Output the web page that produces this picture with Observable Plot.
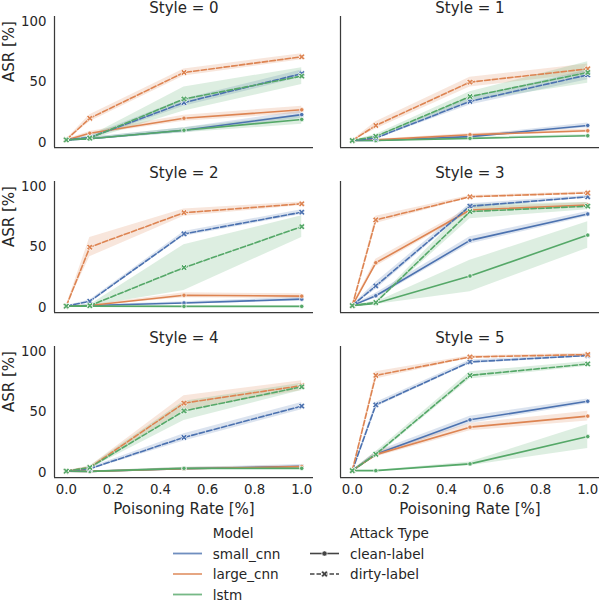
<!DOCTYPE html>
<html><head><meta charset="utf-8">
<script src="https://cdn.jsdelivr.net/npm/d3@7"></script>
<script src="https://cdn.jsdelivr.net/npm/@observablehq/plot@0.6"></script>
<style>
body{margin:0;background:#fff;font-family:"DejaVu Sans",sans-serif;}
#chart{position:relative;width:600px;height:602px;overflow:hidden;}
#chart svg{position:absolute;left:0;}
</style></head><body><div id="chart"></div>
<script>
const styles = [0, 1, 2, 3, 4, 5];
const rates = [0, 0.1, 0.5, 1.0];
const models = ["small_cnn", "large_cnn", "lstm"];
const attacks = ["clean-label", "dirty-label"];
const modelColors = ["#4c72b0", "#dd8452", "#55a868"];
const xTicks = [0, 0.2, 0.4, 0.6, 0.8, 1.0];
const yTicks = [0, 50, 100];
// series order: [model, attack]
const seriesKeys = [
  ["small_cnn", "clean-label"], ["small_cnn", "dirty-label"],
  ["large_cnn", "clean-label"], ["large_cnn", "dirty-label"],
  ["lstm", "clean-label"], ["lstm", "dirty-label"]
];
// mean ASR [%] at each poisoning rate, and half-width of the confidence band
const style0Mean = [[2, 3, 10, 23], [2, 4, 33, 57], [2, 7.5, 20, 27], [2, 20, 58, 71], [2, 3, 10, 19], [2, 3.5, 36, 55]];
const style0Band = [[0.5, 1, 2, 3], [0.5, 1.5, 3, 3], [0.5, 1.5, 2.5, 3], [0.5, 3, 3, 2.5], [0.5, 1, 2, 4], [0.5, 1.5, 10, 7]];
const style1Mean = [[1.5, 1.5, 4.7, 14], [1.5, 3.6, 34, 56], [1.5, 2, 6.3, 9.6], [1.5, 14, 50, 61], [1.5, 1.5, 3.3, 5.5], [1.5, 5, 38, 58]];
const style1Band = [[0.3, 0.5, 1, 2], [0.3, 1, 3, 4], [0.3, 0.5, 1, 1.5], [0.3, 3, 4, 4], [0.3, 0.5, 1, 1], [0.3, 1.5, 4, 9]];
const style2Mean = [[1, 1.5, 3.6, 6.8], [1, 5, 61, 79], [1, 1.5, 10, 9.3], [1, 50, 78.6, 86], [1, 1, 0.8, 0.8], [1, 1.4, 33, 67]];
const style2Band = [[0.3, 0.5, 1, 1.5], [0.3, 1, 2, 2], [0.3, 0.5, 2, 2], [0.3, 8, 3, 1.5], [0.2, 0.2, 0.3, 0.3], [0.3, 0.5, 19, 9]];
const style3Mean = [[1.4, 9.6, 55.6, 77.5], [1.4, 17.8, 84, 91.8], [1.4, 37, 80.8, 85], [1.4, 72.6, 91.8, 95], [1.4, 3.3, 26, 60], [1.4, 4, 79.5, 84]];
const style3Band = [[0.3, 2, 3, 2], [0.3, 3, 2, 1], [0.3, 3, 2, 2], [0.3, 3, 1, 1], [0.3, 1, 13, 11], [0.3, 1, 6, 3]];
const style4Mean = [[1, 0.8, 3, 5], [1, 3, 29, 55], [1, 0.8, 3, 4.7], [1, 4, 57.5, 72], [1, 0.8, 3.3, 3.3], [1, 4, 51, 71]];
const style4Band = [[0.2, 0.3, 1, 1.5], [0.3, 1, 3, 3], [0.2, 0.3, 1, 1], [0.3, 1, 6, 4], [0.2, 0.3, 1, 1], [0.3, 1, 8, 3]];
const style5Mean = [[1.4, 15, 43.6, 59], [1.4, 56, 91.7, 97], [1.4, 14.7, 37.5, 46.7], [1.4, 80.5, 95.8, 97.8], [1.4, 1.4, 7, 29.7], [1.4, 15, 80.5, 90]];
const style5Band = [[0.3, 2, 3, 2], [0.3, 2, 1.5, 1], [0.3, 2, 3, 4], [0.3, 3, 1, 1], [0.3, 0.3, 1.5, 10], [0.3, 2, 3, 2]];

const meanByStyle = [style0Mean, style1Mean, style2Mean, style3Mean, style4Mean, style5Mean];
const bandByStyle = [style0Band, style1Band, style2Band, style3Band, style4Band, style5Band];

const data = [];
styles.forEach((s, si) => {
  seriesKeys.forEach(([model, attack], k) => {
    rates.forEach((rate, i) => {
      const asr = meanByStyle[si][k][i], hw = bandByStyle[si][k][i];
      data.push({style: s, col: s % 2, row: Math.floor(s / 2), model, attack,
        key: model + "|" + attack, rate, asr, lo: asr - hw, hi: asr + hw});
    });
  });
});
const clean = data.filter(d => d.attack === "clean-label");
const dirty = data.filter(d => d.attack === "dirty-label");
const facet = {fx: "col", fy: "row"};
const textColor = "#262626";
const spine = "#3a3a3a";

const plot = Plot.plot({
  width: 600, height: 520,
  marginLeft: 53, marginRight: 0, marginTop: 15, marginBottom: 42.3,
  style: {fontFamily: "DejaVu Sans", fontSize: "13.3px", color: textColor, background: "white"},
  fx: {domain: [0, 1], paddingInner: 0.094, paddingOuter: 0, axis: null},
  fy: {domain: [0, 1, 2], paddingInner: 0.204, paddingOuter: 0, axis: null},
  x: {domain: [-0.05, 1.05]},
  y: {domain: [-4.3, 104.5]},
  color: {domain: models, range: modelColors},
  marks: [
    Plot.areaY(data, {...facet, x: "rate", y1: "lo", y2: "hi", z: "key", fill: "model", fillOpacity: 0.2}),
    Plot.ruleX([-0.05], {stroke: spine, strokeWidth: 1.25}),
    Plot.ruleY([-4.3], {stroke: spine, strokeWidth: 1.25}),
    Plot.lineY(clean, {...facet, x: "rate", y: "asr", z: "key", stroke: "model", strokeWidth: 1.6}),
    Plot.lineY(dirty, {...facet, x: "rate", y: "asr", z: "key", stroke: "model", strokeWidth: 1.6, strokeDasharray: "5.5,2.2"}),
    Plot.dot(clean, {...facet, x: "rate", y: "asr", fill: "model", r: 2.2, stroke: "white", strokeWidth: 0.7}),
    Plot.dot(dirty, {...facet, x: "rate", y: "asr", fill: "model", symbol: "cross", rotate: 45, r: 2.8, stroke: "white", strokeWidth: 0.7}),
    Plot.axisX({ticks: xTicks, tickSize: 0, tickPadding: 7, tickFormat: d3.format(".1f"), label: null, facetAnchor: "bottom", fontSize: 13.3, fill: textColor}),
    Plot.axisY({ticks: yTicks, tickSize: 0, tickPadding: 8, label: null, facetAnchor: "left", fontSize: 13.3, fill: textColor}),
    Plot.text(styles, {fx: s => s % 2, fy: s => Math.floor(s / 2), text: s => `Style = ${s}`, frameAnchor: "top", dy: -8, lineAnchor: "middle", fontSize: 15, fill: textColor}),
    Plot.text([0, 1, 2], {fx: () => 0, fy: r => r, text: () => "ASR [%]", frameAnchor: "left", dx: -45, rotate: -90, fontSize: 15, fill: textColor}),
    Plot.text([0, 1], {fx: c => c, fy: () => 2, text: () => "Poisoning Rate [%]", frameAnchor: "bottom", dy: 32, lineAnchor: "middle", fontSize: 15, fill: textColor})
  ]
});
plot.style.top = "0px";
document.getElementById("chart").appendChild(plot);

// legend below the chart
const lg = d3.create("svg").attr("width", 600).attr("height", 87)
  .style("top", "514px").style("font-family", "DejaVu Sans").style("font-size", "13.6px");
const tc = (x, y, t, anchor) => lg.append("text").attr("x", x).attr("y", y).attr("fill", textColor)
  .attr("dominant-baseline", "central").attr("text-anchor", anchor || "start").text(t);
tc(212.7, 18.5, "Model");
models.forEach((m, i) => {
  const y = 39.5 + i * 20.5;
  lg.append("line").attr("x1", 173).attr("x2", 202).attr("y1", y).attr("y2", y)
    .attr("stroke", modelColors[i]).attr("stroke-width", 1.8).attr("opacity", 0.8);
  tc(212.7, y, m);
});
tc(350, 18.5, "Attack Type");
attacks.forEach((a, i) => {
  const y = 39.5 + i * 20.5;
  lg.append("line").attr("x1", 310).attr("x2", 339).attr("y1", y).attr("y2", y)
    .attr("stroke", "#444").attr("stroke-width", 1.6).attr("stroke-dasharray", i ? "4.5,2" : null);
  if (i === 0) {
    lg.append("circle").attr("cx", 324.5).attr("cy", y).attr("r", 2.6).attr("fill", "#444").attr("stroke", "white").attr("stroke-width", 0.6);
  } else {
    lg.append("path").attr("d", d3.symbol(d3.symbolCross, 28)())
      .attr("transform", `translate(324.5,${y}) rotate(45)`).attr("fill", "#444").attr("stroke", "white").attr("stroke-width", 0.6);
  }
  tc(350, y, a);
});
document.getElementById("chart").appendChild(lg.node());
</script>
</body></html>
